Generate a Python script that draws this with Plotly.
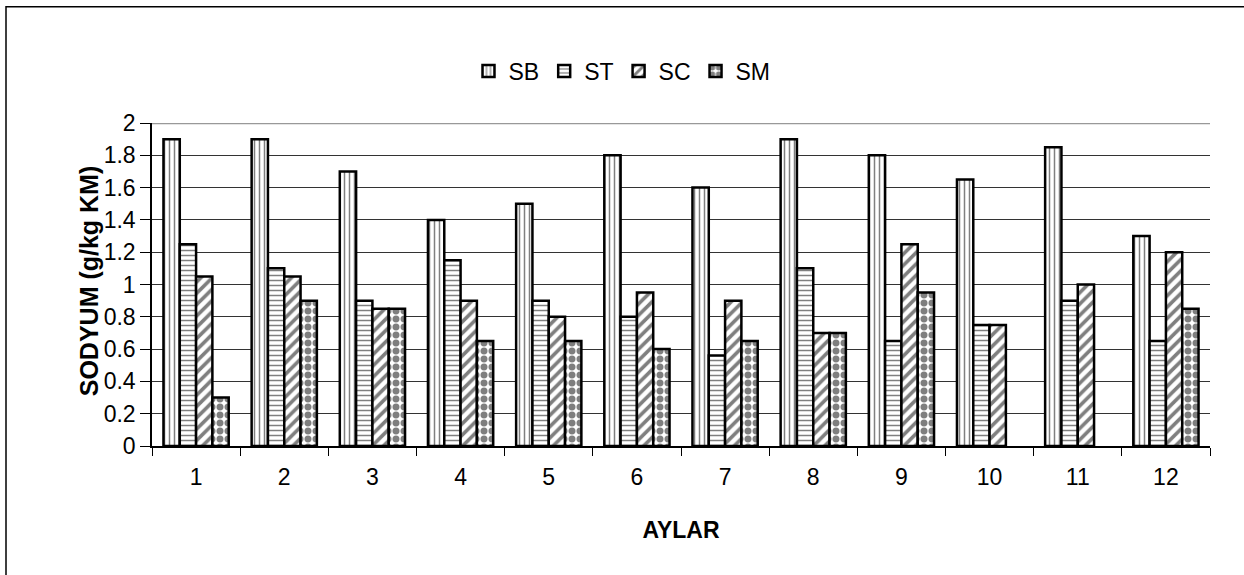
import plotly.graph_objects as go

# Monthly sodium content (g/kg dry matter) for four sites
months = ["1", "2", "3", "4", "5", "6", "7", "8", "9", "10", "11", "12"]
sb = [1.9, 1.9, 1.7, 1.4, 1.5, 1.8, 1.6, 1.9, 1.8, 1.65, 1.85, 1.3]
st = [1.25, 1.1, 0.9, 1.15, 0.9, 0.8, 0.56, 1.1, 0.65, 0.75, 0.9, 0.65]
sc = [1.05, 1.05, 0.85, 0.9, 0.8, 0.95, 0.9, 0.7, 1.25, 0.75, 1.0, 1.2]
sm = [0.3, 0.9, 0.85, 0.65, 0.65, 0.6, 0.65, 0.7, 0.95, None, None, 0.85]

y_ticks = [0, 0.2, 0.4, 0.6, 0.8, 1, 1.2, 1.4, 1.6, 1.8, 2]
y_tick_text = ["0", "0.2", "0.4", "0.6", "0.8", "1", "1.2", "1.4", "1.6", "1.8", "2"]

FONT = "Liberation Sans, Arial, sans-serif"

series = [
    ("SB", sb, dict(shape="|", size=5, solidity=0.3)),
    ("ST", st, dict(shape="-", size=5, solidity=0.3)),
    ("SC", sc, dict(shape="/", size=8, solidity=0.45)),
    ("SM", sm, dict(shape=".", size=8, solidity=0.6)),
]

fig = go.Figure()
for name, vals, pat in series:
    fig.add_trace(go.Bar(
        name=name,
        x=months,
        y=vals,
        marker=dict(
            color="white",
            line=dict(color="black", width=2.5),
            pattern=dict(fgcolor="black", bgcolor="white", fillmode="overlay", **pat),
        ),
    ))

fig.update_layout(
    width=1244,
    height=575,
    margin=dict(l=152, r=34, t=122.5, b=129),
    paper_bgcolor="white",
    plot_bgcolor="white",
    barmode="group",
    bargap=0.26,
    bargroupgap=0,
    font=dict(family=FONT, size=23, color="black"),
    legend=dict(
        orientation="h",
        xref="container",
        yref="container",
        x=0.5,
        xanchor="center",
        y=1 - 71 / 575,
        yanchor="middle",
        font=dict(size=23),
        itemwidth=30,
        bgcolor="rgba(0,0,0,0)",
    ),
    xaxis=dict(
        type="category",
        showgrid=False,
        showline=True,
        linecolor="black",
        linewidth=1.5,
        ticks="outside",
        ticklen=8,
        tickcolor="black",
        tickson="boundaries",
        ticklabelstandoff=10,
        tickfont=dict(size=23),
        title=dict(text="<b>AYLAR</b>", font=dict(size=23), standoff=33),
    ),
    yaxis=dict(
        range=[0, 2],
        tickvals=y_ticks,
        ticktext=y_tick_text,
        showgrid=True,
        gridcolor="#333333",
        gridwidth=1,
        showline=True,
        linecolor="black",
        linewidth=1.5,
        ticks="outside",
        ticklen=10,
        tickcolor="black",
        ticklabelstandoff=0,
        tickfont=dict(size=23),
        zeroline=False,
    ),
)

# y-axis title placed close to the tick labels
fig.add_annotation(
    text="<b>SODYUM (g/kg KM)</b>",
    textangle=-90,
    xref="paper", yref="paper",
    x=(89 - 152) / 1058, y=0.51,
    xanchor="center", yanchor="middle",
    showarrow=False,
    font=dict(family=FONT, size=25, color="black"),
)

# lighter line along the top of the plot area
fig.add_shape(type="line", xref="paper", yref="y", x0=0, x1=1, y0=2, y1=2,
              line=dict(color="#999999", width=2.5), layer="above")

# outer chart frame (left and top edges inside the page)
fig.add_shape(type="rect", xref="paper", yref="paper",
              x0=(6 - 152) / 1058, x1=(1260 - 152) / 1058,
              y0=(446 - 600) / 323.5, y1=(446 - 6) / 323.5,
              line=dict(color="black", width=1.5), fillcolor="rgba(0,0,0,0)",
              layer="below")

fig.write_html("out.html")
